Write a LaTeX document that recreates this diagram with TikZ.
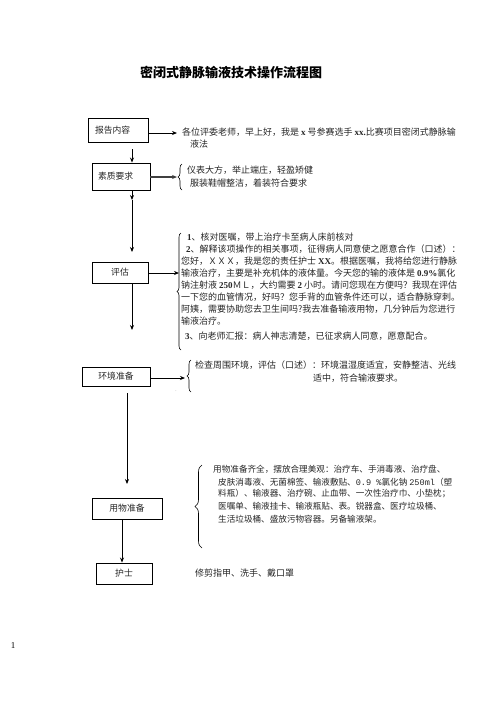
\documentclass[tikz,border=0pt]{standalone}
\usepackage{fontspec}
\setmainfont{Liberation Serif}
\newfontfamily\cjk{Noto Sans CJK SC}
\newfontfamily\lat{Liberation Serif}
\newfontfamily\mono{Liberation Mono}
\usetikzlibrary{arrows.meta,decorations.pathreplacing}
\tikzset{
  box/.style={draw, line width=0.9pt, inner sep=0pt, font=\cjk\fontsize{8.8}{10}\selectfont, text=black!85},
  txt/.style={anchor=west, inner sep=0pt, font=\cjk\fontsize{9}{11}\selectfont, text=black!85},
  txtb/.style={anchor=west, inner sep=0pt, font=\cjk\fontsize{8.6}{11}\selectfont, text=black!85},
  arr/.style={-{Stealth[length=5pt,width=4pt]}, line width=0.8pt},
  brc/.style={decorate, decoration={brace, amplitude=4pt}, line width=0.6pt},
}
\begin{document}
\begin{tikzpicture}[x=1pt,y=-1pt]
\useasboundingbox (0,0) rectangle (496,702);
% title
\node[inner sep=0pt, font=\cjk\bfseries\fontsize{13}{15}\selectfont] (title) at (231,72) {密闭式静脉输液技术操作流程图};

% boxes
\node[box, minimum width=60pt, minimum height=24pt, text width=46pt, align=left] (b1) at (118,130) {报告内容};
\node[box, minimum width=58pt, minimum height=27pt, text width=46pt, align=left] (b2) at (121,176.5) {素质要求};
\node[box, minimum width=56pt, minimum height=21pt] (b3) at (120,272.5) {评估};
\node[box, minimum width=68pt, minimum height=19pt] (b4) at (116,376.5) {环境准备};
\node[box, minimum width=70pt, minimum height=21pt] (b5) at (127,508.5) {用物准备};
\node[box, minimum width=56pt, minimum height=21pt] (b6) at (124,573.5) {护士};

% vertical connectors
\coordinate (a1s) at (132,149);
\coordinate (c2) at (132,200);
\coordinate (c3) at (132,252);
\coordinate (c4) at (132,330);
\coordinate (a4s) at (127,393);
\coordinate (c5) at (127,484);
\coordinate (a5x) at (122,0);
\draw[arr] (a1s) -- (a1s |- b2.north);
\draw[arr] (b2.south -| a1s) -- (c2);
\draw[arr] (c2) -- (c3);
\draw[arr] (b3.south -| c4) -- (c4);
\draw[arr] (a4s) -- (c5);
\draw[arr] (b5.south -| a5x) -- (b6.north -| a5x);

% horizontal connectors
\coordinate (h1) at (177,133);
\coordinate (h2) at (177,177);
\coordinate (h3) at (179,273);
\coordinate (h4) at (185,378);
\draw[arr] (h1 -| b1.east) -- (h1);
\draw[arr, line width=1.1pt, black!75] (h2 -| b2.east) -- (h2);
\draw[arr] (h3 -| b3.east) -- (h3);
\draw[arr] (h4 -| b4.east) -- (h4);

% braces
\draw[brc] (182,190) -- (182,164);
\draw[brc] (181,350) -- (181,233);
\draw[brc] (191,392) -- (191,360);
\draw[brc, decoration={brace, amplitude=7pt}] (202,548) -- (202,465);

% texts
\node[txt] (t1a) at (182,132) {各位评委老师，早上好，我是 {\lat\bfseries x} 号参赛选手 {\lat\bfseries xx.}比赛项目密闭式静脉输};
\node[txt] (t1b) at (190,144) {液法};
\node[txt] (t2a) at (187,170) {仪表大方，举止端庄，轻盈矫健};
\node[txt] (t2b) at (190,183) {服装鞋帽整洁，着装符合要求};

\node[txt] (t3a) at (187,237) {{\lat\bfseries 1}、核对医嘱，带上治疗卡至病人床前核对};
\node[txt] (t3b) at (186,249) {{\lat\bfseries 2}、解释该项操作的相关事项，征得病人同意使之愿意合作（口述）：};
\node[txt] (t3c) at (181,261) {您好，ＸＸＸ，我是您的责任护士 {\lat\bfseries XX}。根据医嘱，我将给您进行静脉};
\node[txt] (t3d) at (181,273) {输液治疗，主要是补充机体的液体量。今天您的输的液体是 {\lat\bfseries 0.9\%}氯化};
\node[txt] (t3e) at (181,285) {钠注射液 {\lat\bfseries 250}ＭＬ，大约需要 {\lat\bfseries 2} 小时。请问您现在方便吗？我现在评估};
\node[txt] (t3f) at (181,297) {一下您的血管情况，好吗？您手背的血管条件还可以，适合静脉穿刺。};
\node[txt] (t3g) at (181,309) {阿姨，需要协助您去卫生间吗?我去准备输液用物，几分钟后为您进行};
\node[txt] (t3h) at (181,321) {输液治疗。};
\node[txt] (t3i) at (185,336) {{\lat\bfseries 3}、向老师汇报：病人神志清楚，已征求病人同意，愿意配合。};

\node[txt] (t4a) at (195,365) {检查周围环境，评估（口述）：环境温湿度适宜，安静整洁、光线};
\node[txt] (t4b) at (313,378) {适中，符合输液要求。};
\node[inner sep=0pt, font=\lat\fontsize{5}{6}\selectfont, black!50] (dot) at (176,391) {.};

\node[txtb] (t5a) at (213,469) {用物准备齐全，摆放合理美观：治疗车、手消毒液、治疗盘、};
\node[txtb] (t5b) at (218,482) {皮肤消毒液、无菌棉签、输液敷贴、{\mono 0.9 \%}氯化钠 {\mono 250ml}（塑};
\node[txtb] (t5c) at (218,494) {料瓶）、输液器、治疗碗、止血带、一次性治疗巾、小垫枕；};
\node[txtb] (t5d) at (218,506) {医嘱单、输液挂卡、输液瓶贴、表。锐器盒、医疗垃圾桶、};
\node[txtb] (t5e) at (218,519) {生活垃圾桶、盛放污物容器。另备输液架。};

\node[txt] (t6) at (195,573) {修剪指甲、洗手、戴口罩};

\node[inner sep=0pt, font=\lat\fontsize{9}{10}\selectfont] (pg) at (13,646) {1};
\end{tikzpicture}
\end{document}
